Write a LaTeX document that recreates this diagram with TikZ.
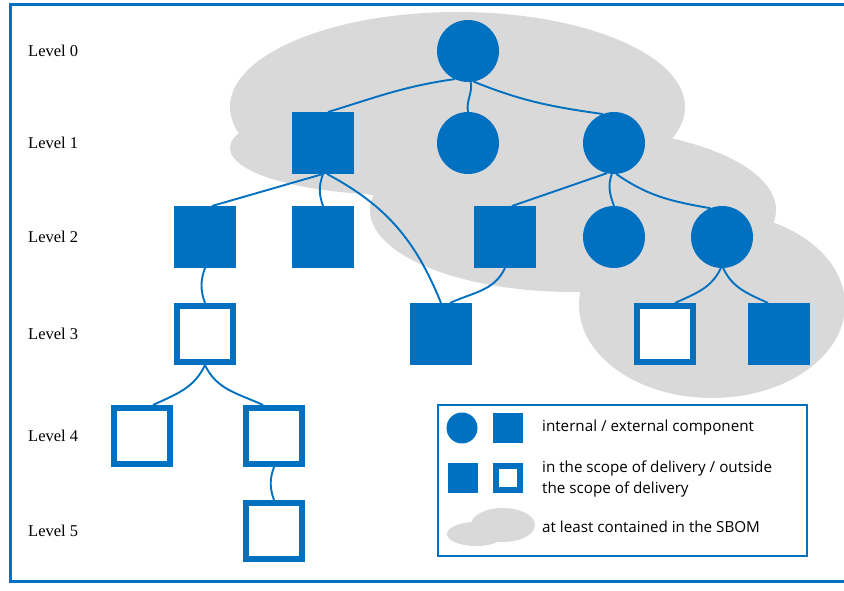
\documentclass[tikz,border=0pt]{standalone}
\usepackage{fontspec}
\setmainfont{Liberation Serif}
\newfontfamily\legendfont{Open Sans}
\definecolor{sbomblue}{HTML}{0070C0}
\definecolor{sbomgray}{HTML}{D9D9D9}

\tikzset{
  comp/.style={inner sep=0pt, outer sep=0pt, fill=sbomblue},
  intcomp/.style={comp, circle, minimum size=62pt},      % interne Komponente
  extcomp/.style={comp, rectangle, minimum size=62pt},   % externe Komponente
  outcomp/.style={rectangle, inner sep=0pt, draw=sbomblue, fill=white,
    line width=6pt, minimum size=56pt},                  % ausserhalb Lieferumfang
  link/.style={draw=sbomblue, line width=1.9pt},
  lvl/.style={anchor=west, inner sep=0pt, font=\fontsize{16.5}{18}\selectfont},
  legtext/.style={anchor=west, align=left, inner sep=0pt,
    font=\legendfont\fontsize{15.2}{20.5}\selectfont},
  sbom/.style={fill=sbomgray},
}

\begin{document}
\begin{tikzpicture}[x=1pt,y=1pt]
\useasboundingbox (0,0) rectangle (844,591);

% Zeilen (y) der Ebenen
\def\yA{540} \def\yB{448} \def\yC{354} \def\yD{257} \def\yE{155} \def\yF{60}

% SBOM-Wolke aus Ellipsen
\fill[sbom] (457.5,484) ellipse [x radius=227.5, y radius=95];
\fill[sbom] (400,443) ellipse [x radius=170, y radius=47];
\fill[sbom] (573,381) ellipse [x radius=203, y radius=82];
\fill[sbom] (712,286) ellipse [x radius=133, y radius=93];

% Rahmen
\draw[sbomblue, line width=3pt] (10,586) rectangle (848,9);

% Ebenen-Beschriftung
\foreach \i/\y in {0/\yA, 1/\yB, 2/\yC, 3/\yD, 4/\yE, 5/\yF}{
  \node[lvl] (lev\i) at (28,\y) {Level \i};
}

% Komponenten
\node[intcomp] (l0)  at (468,\yA) {};
\node[extcomp] (l1a) at (323,\yB) {};
\node[intcomp] (l1b) at (468,\yB) {};
\node[intcomp] (l1c) at (614,\yB) {};
\node[extcomp] (l2a) at (205,\yC) {};
\node[extcomp] (l2b) at (323,\yC) {};
\node[extcomp] (l2c) at (505,\yC) {};
\node[intcomp] (l2d) at (614,\yC) {};
\node[intcomp] (l2e) at (722,\yC) {};
\node[outcomp] (l3a) at (205,\yD) {};
\node[extcomp] (l3b) at (441,\yD) {};
\node[outcomp] (l3c) at (665,\yD) {};
\node[extcomp] (l3d) at (779,\yD) {};
\node[outcomp] (l4a) at (142,\yE) {};
\node[outcomp] (l4b) at (274,\yE) {};
\node[outcomp] (l5a) at (274,\yF) {};

% Verbindungen
\draw[link] (l0.245) to[out=188,in=17] ([xshift=5pt]l1a.north);
\draw[link] (l0.275) to[out=-80,in=100] (l1b.north);
\draw[link] (l0.280) to[out=-22,in=172] (l1c.111);
\draw[link] (l1a.south) -- ([xshift=7pt]l2a.north);
\draw[link] (l1a.south) to[out=-110,in=110] (l2b.north);
\draw[link] ([xshift=4pt]l1a.south) to[out=-28,in=112] (l3b.north);
\draw[link] (l1c.257) -- ([xshift=7pt]l2c.north);
\draw[link] (l1c.266) to[out=-110,in=110] (l2d.north);
\draw[link] (l1c.274) to[out=-35,in=170] (l2e.112);
\draw[link] (l2c.south) to[out=-115,in=25] ([xshift=9pt]l3b.north);
\draw[link] (l2e.268) to[out=-115,in=25] ([xshift=10pt]l3c.north);
\draw[link] (l2e.272) to[out=-65,in=155] ([xshift=-11pt]l3d.north);
\draw[link] (l2a.south) to[out=-110,in=110] (l3a.north);
\draw[link] (l3a.south) to[out=-115,in=25] ([xshift=11pt]l4a.north);
\draw[link] (l3a.south) to[out=-65,in=155] ([xshift=-11pt]l4b.north);
\draw[link] (l4b.south) to[out=-110,in=110] (l5a.north);

% Legende
\draw[sbomblue, line width=2.5pt, fill=white] (438,186) rectangle (807,35);
\node[comp, circle, minimum size=31pt] (kint) at (462,163) {};
\node[comp, rectangle, minimum size=30pt] (kext) at (507.5,162.5) {};
\node[comp, rectangle, minimum size=30pt] (kin) at (462.5,112.5) {};
\node[outcomp, minimum size=24pt] (kout) at (507.5,112.5) {};
\fill[sbom] (476,57) ellipse [x radius=29, y radius=12];
\fill[sbom] (503,66) ellipse [x radius=32, y radius=17];
\node[legtext] (tkomp) at (542,163) {internal / external component};
\node[legtext] (tscope) at (542,112) {in the scope of delivery / outside\\the scope of delivery};
\node[legtext] (tsbom) at (542,64) {at least contained in the SBOM};

\end{tikzpicture}
\end{document}
